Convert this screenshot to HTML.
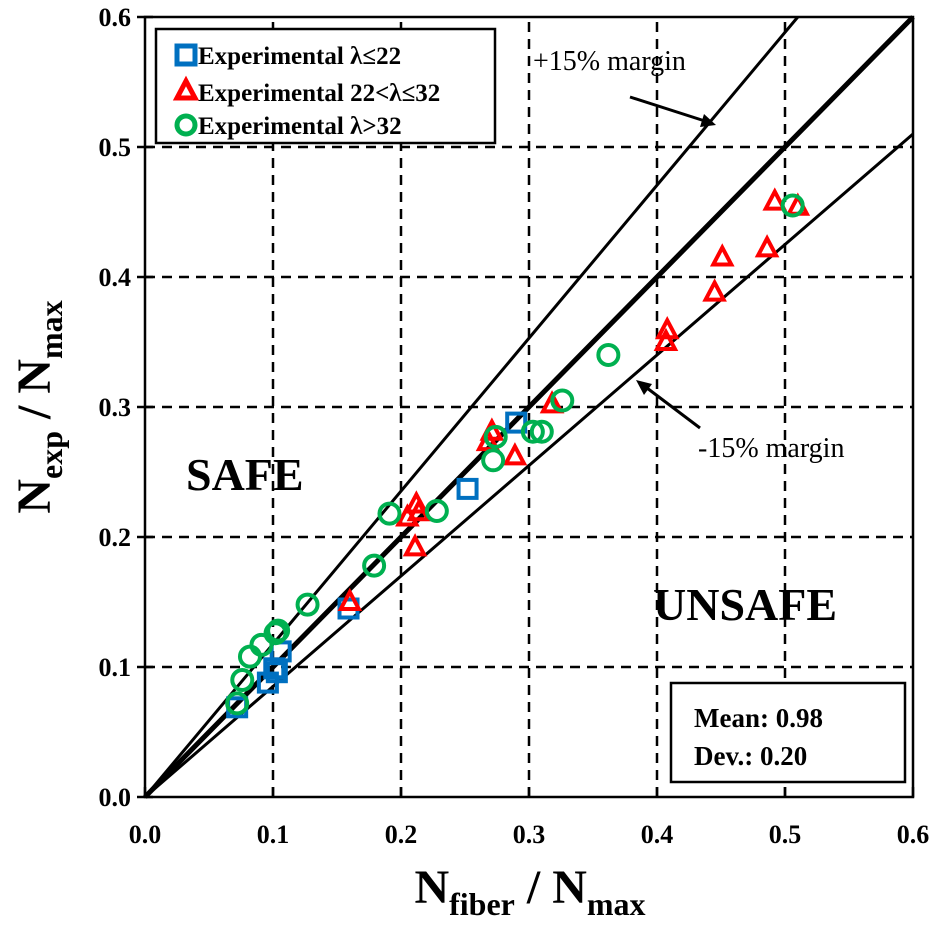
<!DOCTYPE html>
<html><head><meta charset="utf-8"><style>
html,body{margin:0;padding:0;background:#fff;}
svg{display:block;font-family:"Liberation Serif",serif;}
</style></head><body>
<svg id="chart" width="943" height="930" viewBox="0 0 943 930"></svg>
<script>
const xTicks=[0,0.1,0.2,0.3,0.4,0.5,0.6];
const yTicks=[0,0.1,0.2,0.3,0.4,0.5,0.6];
const blueX=[0.072,0.096,0.101,0.106,0.103,0.159,0.252,0.290];
const blueY=[0.069,0.088,0.099,0.112,0.096,0.145,0.237,0.288];
const redX=[0.160,0.211,0.205,0.212,0.214,0.271,0.268,0.289,0.318,0.407,0.408,0.445,0.451,0.486,0.492,0.510];
const redY=[0.150,0.192,0.215,0.225,0.219,0.281,0.273,0.262,0.302,0.350,0.359,0.388,0.415,0.422,0.458,0.454];
const greenX=[0.072,0.076,0.082,0.091,0.102,0.104,0.127,0.179,0.191,0.228,0.272,0.274,0.303,0.310,0.326,0.362,0.506];
const greenY=[0.072,0.090,0.108,0.117,0.126,0.128,0.148,0.178,0.218,0.220,0.259,0.277,0.281,0.281,0.305,0.340,0.455];
const refSlopes=[1,1/0.85,0.85];

const X0=145,X1=913,Y0=797,Y1=17;
const sx=v=>X0+(X1-X0)*v/0.6;
const sy=v=>Y0-(Y0-Y1)*v/0.6;
const svg=document.getElementById('chart');
const NS='http://www.w3.org/2000/svg';
function mk(tag,attrs,parent){const e=document.createElementNS(NS,tag);for(const k in attrs)e.setAttribute(k,attrs[k]);(parent||svg).appendChild(e);return e;}

xTicks.forEach((t,i)=>{if(t>0&&t<0.6){const l=mk('line',{x1:sx(t),x2:sx(t),y1:Y0,y2:Y1,stroke:'#000','stroke-width':2.5,'stroke-dasharray':'10,7'});

}
const tx=mk('text',{x:sx(t),y:Y0+46,'text-anchor':'middle','font-size':26,'font-weight':'bold'});tx.textContent=t.toFixed(1);


mk('line',{x1:sx(t),x2:sx(t),y1:Y0,y2:Y0-10,stroke:'#000','stroke-width':2.5});});
yTicks.forEach(t=>{if(t>0&&t<0.6){const l=mk('line',{x1:X0,x2:X1,y1:sy(t),y2:sy(t),stroke:'#000','stroke-width':2.5,'stroke-dasharray':'10,7'});

}
const tx=mk('text',{x:X0-14,y:sy(t)+9,'text-anchor':'end','font-size':26,'font-weight':'bold'});tx.textContent=t.toFixed(1);


mk('line',{x1:X0-8,x2:X0+8,y1:sy(t),y2:sy(t),stroke:'#000','stroke-width':2.5});});

refSlopes.forEach((s,i)=>{const xe=Math.min(0.6,0.6/s);const l=mk('line',{x1:sx(0),y1:sy(0),x2:sx(xe),y2:sy(xe*s),stroke:'#000','stroke-width':i==0?5:3});

});

const fr=mk('rect',{x:X0,y:Y1,width:X1-X0,height:Y0-Y1,fill:'none',stroke:'#000','stroke-width':2.5});



blueX.forEach((v,i)=>{const p=mk('rect',{x:sx(v)-9,y:sy(blueY[i])-9,width:18,height:18,fill:'none',stroke:'#0070c0','stroke-width':4});

});
redX.forEach((v,i)=>{const cx=sx(v),cy=sy(redY[i]);const p=mk('polygon',{points:`${cx},${cy-10} ${cx+9},${cy+7} ${cx-9},${cy+7}`,fill:'none',stroke:'#ff0000','stroke-width':4});

});
greenX.forEach((v,i)=>{const p=mk('circle',{cx:sx(v),cy:sy(greenY[i]),r:10,fill:'none',stroke:'#00b050','stroke-width':4});

});
</script>
<svg width="943" height="930" style="position:absolute;left:0;top:0;font-family:'Liberation Serif',serif">
<g>
<rect x="156" y="29" width="339" height="114" fill="#fff" stroke="#000" stroke-width="2.5"/>
<rect x="177" y="46" width="18" height="18" fill="none" stroke="#0070c0" stroke-width="5"/>
<text x="198" y="64" font-size="25" font-weight="bold">Experimental  λ≤22</text>
<polygon points="186,81 195,98 177,98" fill="none" stroke="#ff0000" stroke-width="5"/>
<text x="198" y="101" font-size="25" font-weight="bold">Experimental  22&lt;λ≤32</text>
<circle cx="186" cy="125" r="9" fill="none" stroke="#00b050" stroke-width="5"/>
<text x="198" y="134" font-size="25" font-weight="bold">Experimental  λ&gt;32</text>
</g>
<text x="533" y="70" font-size="28">+15% margin</text>
<line x1="630" y1="97" x2="708" y2="122" stroke="#000" stroke-width="3"/>
<polygon points="716,125 700,127 704,114" fill="#000"/>
<text x="698" y="457" font-size="28">-15% margin</text>
<line x1="700" y1="428" x2="643" y2="385" stroke="#000" stroke-width="3"/>
<polygon points="636,380 652,384 644,395" fill="#000"/>
<text x="186" y="490" font-size="46" font-weight="bold">SAFE</text>
<text x="653" y="620" font-size="46" font-weight="bold">UNSAFE</text>
<g>
<rect x="671" y="683" width="234" height="99" fill="#fff" stroke="#000" stroke-width="2.5"/>
<text x="694" y="727" font-size="27" font-weight="bold">Mean: 0.98</text>
<text x="694" y="765" font-size="27" font-weight="bold">Dev.:   0.20</text>
</g>
<text x="530" y="903" font-size="48" font-weight="bold" text-anchor="middle">N<tspan font-size="32" dy="12">fiber</tspan><tspan dy="-12"> / N</tspan><tspan font-size="32" dy="12">max</tspan></text>
<text transform="translate(50,407) rotate(-90)" font-size="48" font-weight="bold" text-anchor="middle">N<tspan font-size="32" dy="12">exp</tspan><tspan dy="-12"> / N</tspan><tspan font-size="32" dy="12">max</tspan></text>
</svg>
</body></html>
